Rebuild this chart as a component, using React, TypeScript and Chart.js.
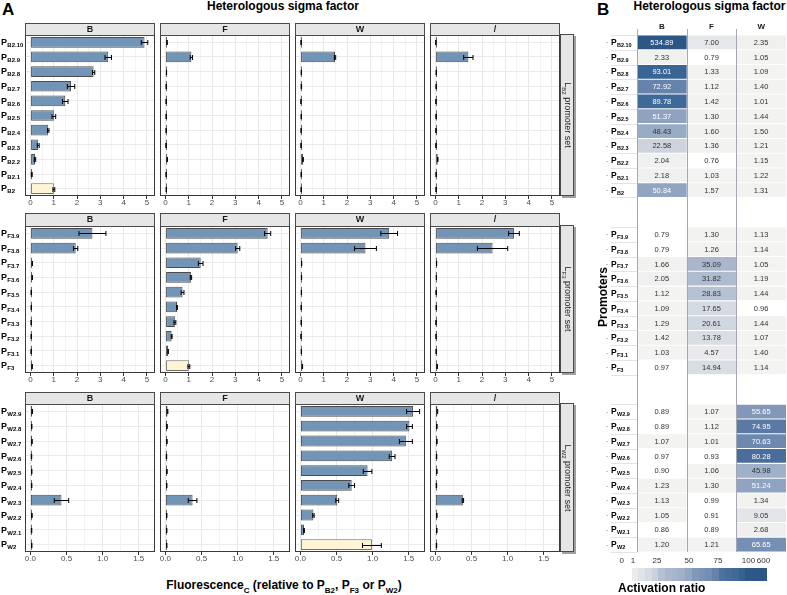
import React, { useEffect, useRef } from 'react';
import { Chart, registerables } from 'chart.js';

Chart.register(...registerables);

const FONT = '"Liberation Sans", Arial, Helvetica, sans-serif';

// ---------------- data ----------------
const sigmaFactors = ['B', 'F', 'W', '/'];

const promotersB2 = ['B2.10', 'B2.9', 'B2.8', 'B2.7', 'B2.6', 'B2.5', 'B2.4', 'B2.3', 'B2.2', 'B2.1', 'B2'];
const promotersF3 = ['F3.9', 'F3.8', 'F3.7', 'F3.6', 'F3.5', 'F3.4', 'F3.3', 'F3.2', 'F3.1', 'F3'];
const promotersW2 = ['W2.9', 'W2.8', 'W2.7', 'W2.6', 'W2.5', 'W2.4', 'W2.3', 'W2.2', 'W2.1', 'W2'];

// L_B2 promoter set
const b2SigB = [4.9, 3.34, 2.71, 1.74, 1.49, 1.0, 0.76, 0.33, 0.19, 0.05, 1.0];
const b2SigBErr = [0.14, 0.14, 0.05, 0.16, 0.12, 0.08, 0.03, 0.04, 0.03, 0.02, 0.04];
const b2SigF = [0.063, 1.11, 0.039, 0.027, 0.024, 0.025, 0.025, 0.02, 0.071, 0.024, 0.031];
const b2SigFErr = [0.01, 0.05, 0.005, 0.005, 0.005, 0.005, 0.005, 0.005, 0.01, 0.005, 0.005];
const b2SigW = [0.021, 1.48, 0.032, 0.034, 0.017, 0.028, 0.024, 0.018, 0.107, 0.028, 0.026];
const b2SigWErr = [0.005, 0.03, 0.005, 0.01, 0.005, 0.005, 0.005, 0.005, 0.01, 0.005, 0.005];
const b2None = [0.009, 1.41, 0.029, 0.024, 0.017, 0.02, 0.016, 0.015, 0.093, 0.023, 0.02];
const b2NoneErr = [0.005, 0.2, 0.005, 0.005, 0.005, 0.005, 0.005, 0.005, 0.01, 0.005, 0.005];

// L_F3 promoter set
const f3SigB = [2.66, 1.94, 0.071, 0.07, 0.028, 0.031, 0.025, 0.027, 0.025, 0.065];
const f3SigBErr = [0.58, 0.09, 0.01, 0.01, 0.005, 0.005, 0.005, 0.005, 0.005, 0.01];
const f3SigF = [4.39, 3.1, 1.51, 1.09, 0.73, 0.49, 0.4, 0.26, 0.11, 1.0];
const f3SigFErr = [0.13, 0.09, 0.1, 0.03, 0.06, 0.02, 0.04, 0.02, 0.01, 0.04];
const f3SigW = [3.81, 2.79, 0.045, 0.04, 0.036, 0.027, 0.027, 0.02, 0.034, 0.076];
const f3SigWErr = [0.36, 0.47, 0.005, 0.005, 0.005, 0.005, 0.005, 0.005, 0.005, 0.01];
const f3None = [3.37, 2.45, 0.043, 0.034, 0.025, 0.028, 0.019, 0.019, 0.024, 0.067];
const f3NoneErr = [0.23, 0.65, 0.005, 0.005, 0.01, 0.005, 0.005, 0.005, 0.005, 0.01];

// L_W2 promoter set
const w2SigB = [0.025, 0.018, 0.022, 0.015, 0.018, 0.017, 0.43, 0.021, 0.016, 0.018];
const w2SigBErr = [0.004, 0.003, 0.003, 0.003, 0.003, 0.003, 0.1, 0.003, 0.003, 0.003];
const w2SigF = [0.03, 0.022, 0.021, 0.015, 0.021, 0.018, 0.376, 0.018, 0.017, 0.018];
const w2SigFErr = [0.004, 0.003, 0.003, 0.003, 0.003, 0.003, 0.06, 0.003, 0.003, 0.003];
const w2SigW = [1.56, 1.51, 1.46, 1.27, 0.93, 0.71, 0.51, 0.18, 0.05, 0.99];
const w2SigWErr = [0.09, 0.04, 0.09, 0.04, 0.06, 0.04, 0.02, 0.01, 0.005, 0.13];
const w2None = [0.028, 0.02, 0.021, 0.016, 0.02, 0.014, 0.38, 0.02, 0.019, 0.015];
const w2NoneErr = [0.003, 0.003, 0.003, 0.003, 0.003, 0.003, 0.01, 0.003, 0.003, 0.003];

const xTicksWide = [0, 1, 2, 3, 4, 5];
const xTicksNarrow = [0, 0.5, 1.0, 1.5];

// Activation ratios (heatmap)
const heatColumns = ['B', 'F', 'W'];
const ratioB2_B = [534.89, 2.33, 93.01, 72.92, 89.78, 51.37, 48.43, 22.58, 2.04, 2.18, 50.84];
const ratioB2_F = [7.0, 0.79, 1.33, 1.12, 1.42, 1.3, 1.6, 1.36, 0.76, 1.03, 1.57];
const ratioB2_W = [2.35, 1.05, 1.09, 1.4, 1.01, 1.44, 1.5, 1.21, 1.15, 1.22, 1.31];
const ratioF3_B = [0.79, 0.79, 1.66, 2.05, 1.12, 1.09, 1.29, 1.42, 1.03, 0.97];
const ratioF3_F = [1.3, 1.26, 35.09, 31.82, 28.83, 17.65, 20.61, 13.78, 4.57, 14.94];
const ratioF3_W = [1.13, 1.14, 1.05, 1.19, 1.44, 0.96, 1.44, 1.07, 1.4, 1.14];
const ratioW2_B = [0.89, 0.89, 1.07, 0.97, 0.9, 1.23, 1.13, 1.05, 0.86, 1.2];
const ratioW2_F = [1.07, 1.12, 1.01, 0.93, 1.06, 1.3, 0.99, 0.91, 0.89, 1.21];
const ratioW2_W = [55.65, 74.95, 70.63, 80.28, 45.98, 51.24, 1.34, 9.05, 2.68, 65.65];

const legendValues = [0, 1, 25, 50, 75, 100, 600];

// ---------------- styles / layout ----------------
const BAR_FILL = '#7294b6';
const CONTROL_FILL = '#fff4d4';
const BAR_BORDER = '#4d4d4d';
const COL_LEFT = [25, 160, 295, 430];
const PANEL_W = 130;
const AXIS_H = 14;
const M = 8;
const LABEL_W = 25;

const ROWS = [
  {
    setName: 'B2', promoters: promotersB2,
    means: [b2SigB, b2SigF, b2SigW, b2None], errs: [b2SigBErr, b2SigFErr, b2SigWErr, b2NoneErr],
    controlCol: 0, majors: xTicksWide, minorStep: 0.5, min: -0.24, max: 5.35, decimals: 0,
    stripTop: 23, plotTop: 35, plotBottom: 196,
  },
  {
    setName: 'F3', promoters: promotersF3,
    means: [f3SigB, f3SigF, f3SigW, f3None], errs: [f3SigBErr, f3SigFErr, f3SigWErr, f3NoneErr],
    controlCol: 1, majors: xTicksWide, minorStep: 0.5, min: -0.24, max: 5.35, decimals: 0,
    stripTop: 213, plotTop: 226, plotBottom: 373,
  },
  {
    setName: 'W2', promoters: promotersW2,
    means: [w2SigB, w2SigF, w2SigW, w2None], errs: [w2SigBErr, w2SigFErr, w2SigWErr, w2NoneErr],
    controlCol: 2, majors: xTicksNarrow, minorStep: 0.25, min: -0.075, max: 1.725, decimals: 1,
    stripTop: 392, plotTop: 404, plotBottom: 552,
  },
];

function drawPLabel(ctx: CanvasRenderingContext2D, x: number, y: number, sub: string, pSize: number, sSize: number) {
  ctx.textAlign = 'left';
  ctx.textBaseline = 'alphabetic';
  ctx.fillStyle = '#000';
  ctx.font = `bold ${pSize}px ${FONT}`;
  const base = y + pSize * 0.3;
  ctx.fillText('P', x, base);
  const w = ctx.measureText('P').width;
  ctx.font = `bold ${sSize}px ${FONT}`;
  ctx.fillText(sub, x + w + 0.3, base + sSize * 0.35);
}

function BarPanel({ row, col }: { row: number; col: number }) {
  const ref = useRef<HTMLCanvasElement>(null);
  const r = ROWS[row];
  const labelW = col === 0 ? LABEL_W : 0;
  const left = COL_LEFT[col] - M - labelW;
  const top = r.stripTop - M;
  const width = PANEL_W + 2 * M + labelW;
  const height = r.plotBottom - r.stripTop + AXIS_H + 2 * M;
  const stripH = r.plotTop - r.stripTop;

  useEffect(() => {
    const means = r.means[col];
    const errs = r.errs[col];
    const n = r.promoters.length;
    const isControl = (i: number) => col === r.controlCol && i === n - 1;
    const minors: number[] = [];
    for (let v = r.majors[0] + r.minorStep; v < r.max; v += r.minorStep * 2) minors.push(+v.toFixed(4));
    const allTicks = [...r.majors, ...minors].sort((a, b) => a - b);
    const isMajor = (v: number) => r.majors.some((m) => Math.abs(m - v) < 1e-6);

    const decor = {
      id: 'decor',
      afterDatasetsDraw(chart: any) {
        const { ctx, scales } = chart;
        const x = scales.x, y = scales.y;
        ctx.save();
        ctx.strokeStyle = '#000';
        ctx.lineWidth = 1;
        means.forEach((m: number, i: number) => {
          const e = errs[i];
          const yc = Math.round(y.getPixelForValue(i)) + 0.5;
          const x1 = x.getPixelForValue(m - e);
          const x2 = x.getPixelForValue(m + e);
          ctx.beginPath();
          ctx.moveTo(x1, yc);
          ctx.lineTo(x2, yc);
          ctx.moveTo(x1, yc - 2.5);
          ctx.lineTo(x1, yc + 2.5);
          ctx.moveTo(x2, yc - 2.5);
          ctx.lineTo(x2, yc + 2.5);
          ctx.stroke();
        });
        ctx.restore();
      },
      afterDraw(chart: any) {
        const { ctx, chartArea: a, scales } = chart;
        ctx.save();
        // panel border
        ctx.strokeStyle = '#3a3a3a';
        ctx.lineWidth = 1;
        ctx.strokeRect(a.left + 0.5, a.top + 0.5, a.right - a.left - 1, a.bottom - a.top - 1);
        // strip
        ctx.fillStyle = '#e6e6e6';
        ctx.fillRect(a.left, a.top - stripH, a.right - a.left, stripH);
        ctx.strokeStyle = '#4a4a4a';
        ctx.strokeRect(a.left + 0.5, a.top - stripH + 0.5, a.right - a.left - 1, stripH);
        ctx.fillStyle = '#1a1a1a';
        ctx.font = `bold 9px ${FONT}`;
        ctx.textAlign = 'center';
        ctx.textBaseline = 'middle';
        ctx.fillText(sigmaFactors[col], (a.left + a.right) / 2, a.top - stripH / 2 + 0.5);
        // y labels
        if (col === 0) {
          r.promoters.forEach((p: string, i: number) => {
            drawPLabel(ctx, M + 1, scales.y.getPixelForValue(i), p, 9, 6);
          });
        }
        ctx.restore();
      },
    };

    const chart = new Chart(ref.current as HTMLCanvasElement, {
      type: 'bar',
      data: {
        labels: r.promoters,
        datasets: [
          {
            data: means,
            backgroundColor: means.map((_: number, i: number) => (isControl(i) ? CONTROL_FILL : BAR_FILL)),
            borderColor: means.map((_: number, i: number) => (isControl(i) ? '#6e6e6e' : BAR_BORDER)),
            borderWidth: 1,
            borderSkipped: false,
            barPercentage: 0.73,
            categoryPercentage: 1,
            minBarLength: 1.5,
            inflateAmount: 0,
          } as any,
        ],
      },
      options: {
        animation: false,
        responsive: false,
        devicePixelRatio: 1,
        indexAxis: 'y',
        layout: { padding: { left: M + labelW, right: M, top: M + stripH, bottom: M } },
        plugins: { legend: { display: false }, tooltip: { enabled: false } },
        scales: {
          x: {
            type: 'linear',
            min: r.min,
            max: r.max,
            afterBuildTicks: (s: any) => {
              s.ticks = allTicks.map((v) => ({ value: v }));
            },
            afterFit: (s: any) => {
              s.height = AXIS_H;
            },
            ticks: {
              autoSkip: false,
              maxRotation: 0,
              minRotation: 0,
              padding: 0,
              color: '#4d4d4d',
              font: { family: FONT, size: 8, lineHeight: 1 },
              callback: (v: any) => (isMajor(Number(v)) ? Number(v).toFixed(r.decimals) : ''),
            },
            grid: {
              color: (c: any) => (isMajor(c.tick?.value) ? '#e8e8e8' : '#f3f3f3'),
              lineWidth: 1,
              drawTicks: true,
              tickLength: 3,
              tickWidth: 1,
              tickColor: (c: any) => (isMajor(c.tick?.value) ? '#333333' : 'rgba(0,0,0,0)'),
            },
            border: { display: false },
          },
          y: {
            type: 'category',
            afterFit: (s: any) => {
              s.width = 0;
            },
            ticks: { display: false },
            grid: { color: '#ebebeb', offset: false, drawTicks: false, lineWidth: 1 },
            border: { display: false },
          },
        } as any,
      },
      plugins: [decor],
    } as any);
    return () => chart.destroy();
  }, []);

  return (
    <canvas
      ref={ref}
      width={width}
      height={height}
      style={{ position: 'absolute', left, top, width, height }}
    />
  );
}

// ---------- heatmap ----------
const heatStops: number[][] = [
  [1, 243, 243, 241], [4.5, 234, 234, 237], [9, 227, 229, 232], [14, 217, 222, 229], [20, 210, 216, 225],
  [23, 205, 211, 221], [29, 181, 192, 210], [35, 169, 182, 203], [47, 157, 176, 201], [51, 144, 164, 194],
  [56, 129, 151, 184], [66, 118, 144, 181], [72, 108, 135, 173], [75, 90, 122, 165], [80, 74, 110, 156],
  [90, 63, 105, 151], [100, 45, 89, 138], [600, 44, 85, 133],
];
function heatColor(v: number) {
  if (v < 1) return '#ffffff';
  if (v >= 600) v = 600;
  for (let k = 0; k < heatStops.length - 1; k++) {
    const a = heatStops[k], b = heatStops[k + 1];
    if (v >= a[0] && v <= b[0]) {
      const t = (v - a[0]) / (b[0] - a[0]);
      const c = [1, 2, 3].map((j) => Math.round(a[j] + (b[j] - a[j]) * t));
      return `rgb(${c[0]},${c[1]},${c[2]})`;
    }
  }
  return 'rgb(44,85,133)';
}

const BLANK = 2;
const heatLabels = [...promotersB2, ...Array(BLANK).fill(''), ...promotersF3, ...Array(BLANK).fill(''), ...promotersW2];
const blanks = Array(BLANK).fill(null);
const heatCols = [
  [...ratioB2_B, ...blanks, ...ratioF3_B, ...blanks, ...ratioW2_B],
  [...ratioB2_F, ...blanks, ...ratioF3_F, ...blanks, ...ratioW2_F],
  [...ratioB2_W, ...blanks, ...ratioF3_W, ...blanks, ...ratioW2_W],
];

const HM_LEFT = 596;
const HM_TOP = 20;
const HM_W = 191;
const HM_H = 575;

function Heatmap() {
  const ref = useRef<HTMLCanvasElement>(null);
  useEffect(() => {
    const ox = HM_LEFT, oy = HM_TOP;
    const decor = {
      id: 'heatDecor',
      afterDatasetsDraw(chart: any) {
        const { ctx, chartArea: a, scales } = chart;
        const x = scales.x, y = scales.y;
        const rowH = Math.abs(y.getPixelForValue(1) - y.getPixelForValue(0));
        ctx.save();
        // label column separators
        ctx.strokeStyle = '#e3e3e3';
        ctx.lineWidth = 1;
        heatLabels.forEach((lab, i) => {
          if (!lab) return;
          const yc = y.getPixelForValue(i);
          [yc - rowH / 2, yc + rowH / 2].forEach((yy) => {
            ctx.beginPath();
            ctx.moveTo(611 - ox, Math.round(yy) + 0.5);
            ctx.lineTo(a.left, Math.round(yy) + 0.5);
            ctx.stroke();
          });
        });
        // vertical column lines
        ctx.strokeStyle = '#a6a6b3';
        [0, 1, 2].forEach((c) => {
          const xx = Math.round(x.getPixelForValue(c)) + 0.5;
          ctx.beginPath();
          ctx.moveTo(xx, 29 - oy);
          ctx.lineTo(xx, a.bottom);
          ctx.stroke();
        });
        // values
        ctx.font = `7.5px ${FONT}`;
        ctx.textAlign = 'center';
        ctx.textBaseline = 'middle';
        heatCols.forEach((col, c) => {
          col.forEach((v, i) => {
            if (v == null) return;
            ctx.fillStyle = v >= 50 ? '#ffffff' : '#333333';
            ctx.fillText(v.toFixed(2), x.getPixelForValue(c + 0.5), y.getPixelForValue(i) + 0.5);
          });
        });
        // row labels + small axis ticks
        heatLabels.forEach((lab, i) => {
          if (!lab) return;
          const yc = y.getPixelForValue(i);
          drawPLabel(ctx, 611 - ox, yc, lab, 8.5, 5.5);
          ctx.strokeStyle = '#c4c4c4';
          ctx.beginPath();
          ctx.moveTo(606 - ox, Math.round(yc) + 0.5);
          ctx.lineTo(608 - ox, Math.round(yc) + 0.5);
          ctx.stroke();
        });
        ctx.restore();
      },
      afterDraw(chart: any) {
        const { ctx } = chart;
        ctx.save();
        // colour bar legend
        const pos = [632, 657, 689, 718, 748.7, 766];
        const vals = [1, 25, 50, 75, 100, 600];
        const toVal = (p: number) => {
          for (let k = 0; k < pos.length - 1; k++) {
            if (p >= pos[k] && p <= pos[k + 1]) return vals[k] + ((p - pos[k]) / (pos[k + 1] - pos[k])) * (vals[k + 1] - vals[k]);
          }
          return 600;
        };
        const y0 = 568 - oy, h = 13;
        ctx.fillStyle = '#ffffff';
        ctx.fillRect(618 - ox, y0, 14, h);
        const nBlocks = 20;
        const bw = (766 - 632) / nBlocks;
        for (let k = 0; k < nBlocks; k++) {
          const p0 = 632 + k * bw;
          ctx.fillStyle = heatColor(toVal(p0 + bw / 2));
          ctx.fillRect(Math.floor(p0 - ox), y0, Math.ceil(bw) + 1, h);
        }
        ctx.fillStyle = '#333';
        ctx.font = `8px ${FONT}`;
        ctx.textAlign = 'center';
        ctx.textBaseline = 'middle';
        const labPos = [621.7, 633, 657, 689, 718, 748.5, 763.5];
        legendValues.forEach((v, k) => ctx.fillText(String(v), labPos[k] - ox, 561 - oy));
        ctx.restore();
      },
    };

    const chart = new Chart(ref.current as HTMLCanvasElement, {
      type: 'bar',
      data: {
        labels: heatLabels,
        datasets: heatCols.map((col, c) => ({
          data: col.map((v) => (v == null ? null : [c, c + 1])),
          backgroundColor: col.map((v) => (v == null ? 'rgba(0,0,0,0)' : heatColor(v))),
          borderWidth: 0,
          barPercentage: 0.93,
          categoryPercentage: 1,
          grouped: false,
          inflateAmount: 0,
        })) as any,
      },
      options: {
        animation: false,
        responsive: false,
        devicePixelRatio: 1,
        indexAxis: 'y',
        layout: { padding: { left: 0, right: 1, top: 0, bottom: HM_H - (552 - HM_TOP) } },
        plugins: { legend: { display: false }, tooltip: { enabled: false } },
        scales: {
          x: {
            type: 'linear',
            position: 'top',
            min: 0,
            max: 3,
            afterBuildTicks: (s: any) => {
              s.ticks = [0.5, 1.5, 2.5].map((v) => ({ value: v }));
            },
            afterFit: (s: any) => {
              s.height = 35 - HM_TOP;
            },
            ticks: {
              autoSkip: false,
              maxRotation: 0,
              padding: 3,
              color: '#1a1a1a',
              font: { family: FONT, size: 8, weight: 'bold' },
              callback: (v: any) => heatColumns[Math.floor(Number(v))],
            },
            grid: { display: false, drawTicks: false },
            border: { display: false },
          },
          y: {
            type: 'category',
            afterFit: (s: any) => {
              s.width = 637 - HM_LEFT;
            },
            ticks: { display: false },
            grid: { display: false, drawTicks: false },
            border: { display: false },
          },
        } as any,
      },
      plugins: [decor],
    } as any);
    return () => chart.destroy();
  }, []);
  return (
    <canvas
      ref={ref}
      width={HM_W}
      height={HM_H}
      style={{ position: 'absolute', left: HM_LEFT, top: HM_TOP, width: HM_W, height: HM_H }}
    />
  );
}

// ---------- html text helpers ----------
function Sub({ children, size }: { children: React.ReactNode; size: number }) {
  return <span style={{ fontSize: size, position: 'relative', top: size * 0.45 }}>{children}</span>;
}

function Txt({ x, y, size, bold = true, center = false, children }: any) {
  return (
    <div
      style={{
        position: 'absolute',
        left: x,
        top: y - size / 2,
        fontSize: size,
        lineHeight: `${size}px`,
        fontWeight: bold ? 'bold' : 'normal',
        whiteSpace: 'nowrap',
        transform: center ? 'translateX(-50%)' : undefined,
        color: '#000',
      }}
    >
      {children}
    </div>
  );
}

function RowStrip({ r }: { r: (typeof ROWS)[number] }) {
  const h = r.plotBottom - r.plotTop + 1;
  return (
    <div
      style={{
        position: 'absolute',
        left: 560,
        top: r.plotTop - 1,
        width: 14,
        height: h,
        boxSizing: 'border-box',
        background: '#e6e6e6',
        border: '1px solid #4a4a4a',
        boxShadow: '2px 2px 0 #a0a0a0',
      }}
    >
      <div
        style={{
          position: 'absolute',
          left: '50%',
          top: '50%',
          transform: 'translate(-50%, -50%) rotate(90deg)',
          whiteSpace: 'nowrap',
          fontSize: 9,
          lineHeight: '9px',
          color: '#1a1a1a',
        }}
      >
        L<Sub size={6}>{r.setName}</Sub> promoter set
      </div>
    </div>
  );
}

export default function App() {
  return (
    <div
      style={{
        position: 'absolute',
        left: 0,
        top: 0,
        width: 787,
        height: 595,
        overflow: 'hidden',
        background: '#ffffff',
        fontFamily: FONT,
      }}
    >
      <Txt x={2} y={9} size={17}>A</Txt>
      <Txt x={597} y={9} size={17}>B</Txt>
      <Txt x={283} y={6} size={12} center>Heterologous sigma factor</Txt>
      <Txt x={709.5} y={6} size={12} center>Heterologous sigma factor</Txt>
      {ROWS.map((_, ri) => sigmaFactors.map((__, ci) => <BarPanel key={`${ri}-${ci}`} row={ri} col={ci} />))}
      {ROWS.map((r) => <RowStrip key={r.setName} r={r} />)}
      <Heatmap />
      <Txt x={284} y={585} size={12} center>
        Fluorescence<Sub size={8}>C</Sub> (relative to P<Sub size={8}>B2</Sub>, P<Sub size={8}>F3</Sub> or P<Sub size={8}>W2</Sub>)
      </Txt>
      <div
        style={{
          position: 'absolute',
          left: 603,
          top: 297,
          transform: 'translate(-50%, -50%) rotate(-90deg)',
          fontSize: 12,
          lineHeight: '12px',
          fontWeight: 'bold',
          whiteSpace: 'nowrap',
        }}
      >
        Promoters
      </div>
      <Txt x={618} y={588} size={12}>Activation ratio</Txt>
    </div>
  );
}
